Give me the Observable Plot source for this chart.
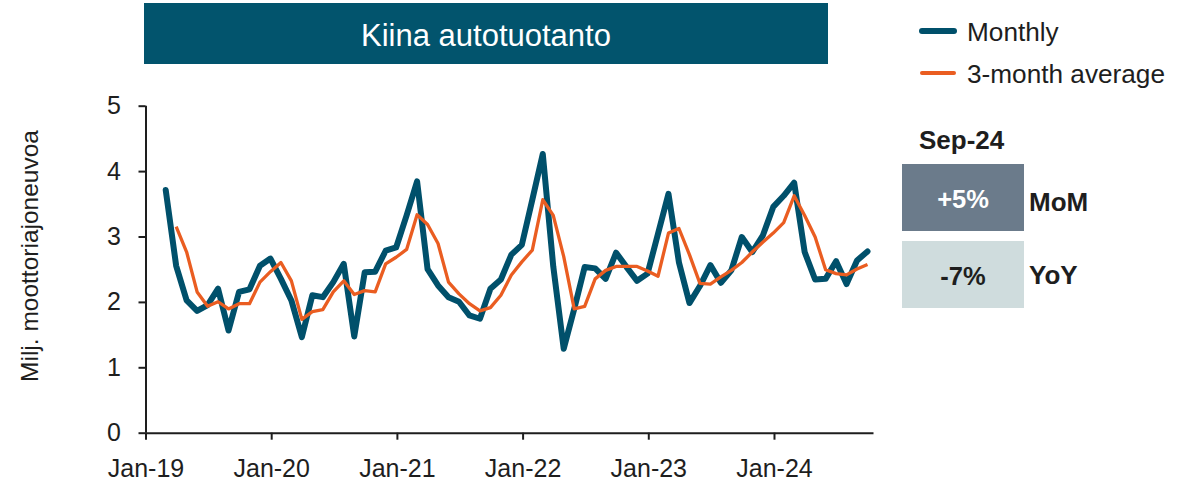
<!DOCTYPE html>
<html>
<head>
<meta charset="utf-8">
<script src="https://cdn.jsdelivr.net/npm/d3@7"></script>
<script src="https://cdn.jsdelivr.net/npm/@observablehq/plot@0.6"></script>
<style>
  html, body { margin: 0; padding: 0; background: #ffffff; }
  #chart svg { display: block; }
</style>
</head>
<body>
<div id="chart"></div>
<script>
// ---- Data (million motor vehicles) ----
const monthLabels = d3.utcMonth.range(new Date(Date.UTC(2019, 1, 1)), new Date(Date.UTC(2024, 9, 1)))
  .map(d3.utcFormat("%b-%y")); // Feb-19 ... Sep-24

const monthly = [3.72,2.56,2.03,1.87,1.96,2.21,1.57,2.16,2.20,2.56,
                 2.67,2.36,2.03,1.47,2.11,2.08,2.31,2.59,1.48,2.46,
                 2.47,2.79,2.84,3.33,3.85,2.51,2.26,2.08,2.01,1.80,
                 1.75,2.21,2.35,2.73,2.88,3.57,4.27,2.55,1.29,1.90,
                 2.54,2.52,2.36,2.76,2.54,2.33,2.44,3.05,3.66,2.61,
                 1.99,2.25,2.57,2.30,2.49,3.00,2.77,3.02,3.46,3.63,
                 3.83,2.77,2.35,2.36,2.63,2.28,2.64,2.78];

const avg3 = [null,3.16,2.77,2.16,1.94,2.01,1.90,1.98,1.98,2.31,
              2.47,2.61,2.33,1.74,1.86,1.89,2.16,2.33,2.12,2.18,
              2.16,2.59,2.69,2.81,3.34,3.19,2.90,2.31,2.13,1.98,
              1.87,1.92,2.11,2.42,2.62,2.80,3.57,3.33,2.70,1.90,
              1.94,2.36,2.49,2.55,2.55,2.55,2.48,2.40,3.06,3.13,
              2.73,2.29,2.28,2.39,2.49,2.61,2.77,2.92,3.06,3.22,
              3.63,3.33,3.00,2.50,2.44,2.42,2.51,2.58];

const xTickLabels = ["Jan-19","Jan-20","Jan-21","Jan-22","Jan-23","Jan-24"];
const xTickMonths = [0, 12, 24, 36, 48, 60];   // months since Jan-19
const yTicks = [0, 1, 2, 3, 4, 5];

const seriesNames = ["Monthly", "3-month average"];
const seriesColors = ["#00506b", "#ea5d21"];
const latestLabel = "Sep-24";
const kpiLabels = ["MoM", "YoY"];
const kpiValues = ["+5%", "-7%"];

const title = "Kiina autotuotanto";
const yLabel = "Milj. moottoriajoneuvoa";

// table: each month positioned near the end of its month slot
const rows = monthLabels.map((m, i) => ({
  label: m,
  pos: i + 1 + 0.88,
  monthly: monthly[i],
  avg3: avg3[i]
}));

const font = "Liberation Sans, Arial, Helvetica, sans-serif";

const chart = Plot.plot({
  width: 1189,
  height: 485,
  marginLeft: 145.5,
  marginRight: 315.5,
  marginTop: 105.7,
  marginBottom: 52.3,
  style: { fontFamily: font, fontSize: "25px", color: "#1e1e1e", background: "#ffffff" },
  x: { type: "linear", domain: [0, 69.5] },
  y: { domain: [0, 5] },
  marks: [
    Plot.axisY(yTicks, { tickSize: 7, tickPadding: 18, strokeWidth: 2, label: null, fontSize: 25,
      tickFormat: d => String(d) }),
    Plot.axisX(xTickMonths, {
      tickSize: 7, tickPadding: 19, strokeWidth: 2, label: null, fontSize: 25,
      tickFormat: d => xTickLabels[xTickMonths.indexOf(d)]
    }),
    Plot.ruleX([0], { y1: 0, y2: 5, stroke: "#1e1e1e", strokeWidth: 2 }),
    Plot.ruleY([0], { x1: 0, x2: 69.5, stroke: "#1e1e1e", strokeWidth: 2 }),
    Plot.line(rows, { x: "pos", y: "monthly", stroke: seriesColors[0], strokeWidth: 6,
      strokeLinejoin: "round", strokeLinecap: "round" }),
    Plot.line(rows.filter(r => r.avg3 != null), { x: "pos", y: "avg3", stroke: seriesColors[1], strokeWidth: 3.3,
      strokeLinejoin: "round", strokeLinecap: "butt" })
  ]
});

document.getElementById("chart").appendChild(chart);

// ---- Decorations: title box, legend, KPI boxes, y label ----
const svg = d3.select(chart);
const deco = svg.append("g").attr("font-family", font).attr("text-anchor", "start");

// Title banner
deco.append("rect").attr("x", 144).attr("y", 3).attr("width", 684).attr("height", 61).attr("fill", "#02546d");
deco.append("text").attr("x", 486).attr("y", 35).attr("dy", "0.35em")
  .attr("text-anchor", "middle").attr("fill", "#ffffff").attr("font-size", 31).text(title);

// Y-axis title
deco.append("text").attr("transform", "translate(29,256) rotate(-90)").attr("dy", "0.35em")
  .attr("text-anchor", "middle").attr("fill", "#1e1e1e").attr("font-size", 24.5).text(yLabel);

// Legend
const legY = [31, 73];
const legW = [6, 4];
seriesNames.forEach((name, i) => {
  deco.append("line").attr("x1", 922).attr("x2", 954).attr("y1", legY[i]).attr("y2", legY[i])
    .attr("stroke", seriesColors[i]).attr("stroke-width", legW[i]).attr("stroke-linecap", "round");
  deco.append("text").attr("x", 967).attr("y", legY[i] + 1).attr("dy", "0.35em")
    .attr("text-anchor", "start").attr("fill", "#1e1e1e").attr("font-size", 26.2).text(name);
});

// Latest month
deco.append("text").attr("x", 919).attr("y", 140).attr("dy", "0.35em").attr("text-anchor", "start")
  .attr("font-weight", "bold").attr("fill", "#1e1e1e").attr("font-size", 26).text(latestLabel);

// KPI boxes
const boxY = [164, 241];
const boxFill = ["#6b7b8b", "#cfdcdd"];
const boxText = ["#ffffff", "#1e1e1e"];
kpiLabels.forEach((lab, i) => {
  deco.append("rect").attr("x", 902).attr("y", boxY[i]).attr("width", 122).attr("height", 67).attr("fill", boxFill[i]);
  deco.append("text").attr("x", 963).attr("y", boxY[i] + 35).attr("dy", "0.35em").attr("text-anchor", "middle")
    .attr("font-weight", "bold").attr("fill", boxText[i]).attr("font-size", 25.5).text(kpiValues[i]);
  deco.append("text").attr("x", 1029).attr("y", boxY[i] + 38 - i * 4).attr("dy", "0.35em").attr("text-anchor", "start")
    .attr("font-weight", "bold").attr("fill", "#1e1e1e").attr("font-size", 26).text(lab);
});
</script>
</body>
</html>
